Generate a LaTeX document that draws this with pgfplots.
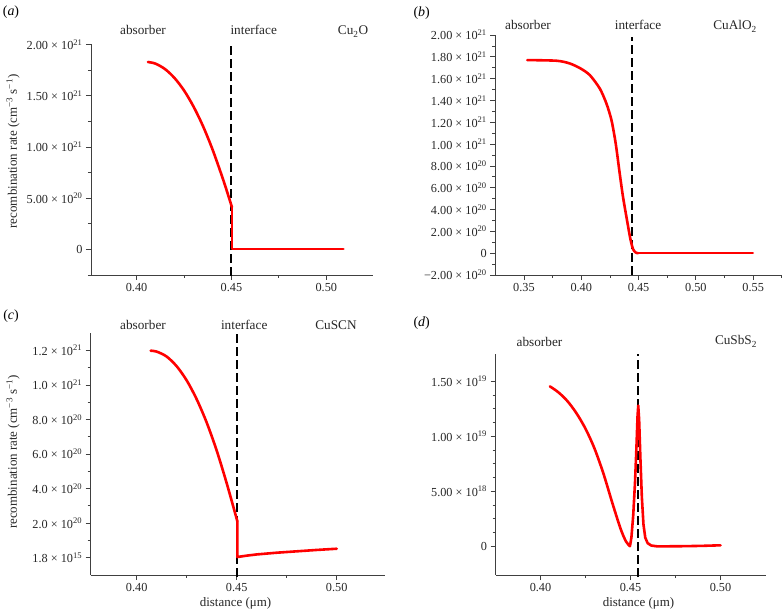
\documentclass[border=0pt]{standalone}
\usepackage{fontspec}
\setmainfont{Liberation Serif}
\usepackage{pgfplots}
\pgfplotsset{compat=1.18}
\newcommand\sci[2]{#1 × 10\textsuperscript{#2}}
\definecolor{axgray}{gray}{0.25}
\pgfplotsset{
  panel/.style={scale only axis, axis lines=left,
    axis line style={-, line width=0.9bp, color=axgray},
    tick align=outside, major tick length=5bp, minor tick length=3bp,
    tick style={line width=0.8bp, color=axgray},
    ticklabel style={font=\fontsize{12.3}{13}\selectfont, color=black!85},
    scaled y ticks=false, scaled x ticks=false,
    anchor=south west, clip=false},
  curve/.style={red, line width=2.6bp, line join=round, line cap=round},
  iface/.style={black, line width=2bp, dash pattern=on 9bp off 4bp},
}
\begin{document}
\begin{tikzpicture}
\useasboundingbox (0,0) rectangle (782bp,610bp);
% (a)
\begin{axis}[panel, at={(91bp,335bp)}, width=282bp, height=230.5bp,
  xmin=0.376, xmax=0.5246, ymin=-2.5e20, ymax=2e21,
  xtick={0.40,0.45,0.50}, xticklabels={0.40,0.45,0.50},
  minor xtick={0.425,0.475},
  ytick={0,5e20,1e21,1.5e21,2e21},
  yticklabels={0,\sci{5.00}{20},\sci{1.00}{21},\sci{1.50}{21},\sci{2.00}{21}},
  minor ytick={-2.5e20,2.5e20,7.5e20,1.25e21,1.75e21}]
\addplot[iface] coordinates {(0.45,-2.6e20) (0.45,2e21)};
\addplot[curve, smooth, tension=0.5] coordinates {(0.406,1.829e21) (0.410,1.813e21) (0.415,1.760e21) (0.420,1.673e21) (0.425,1.552e21) (0.430,1.395e21) (0.435,1.204e21) (0.440,0.977e21) (0.445,0.716e21) (0.4475,0.575e21) (0.4503,0.41e21)};
\addplot[curve] coordinates {(0.4503,0.41e21) (0.4503,0.002e21) (0.509,0.002e21)};
\end{axis}
% (b)
\begin{axis}[panel, at={(495.3bp,335bp)}, width=286.5bp, height=240bp,
  xmin=0.325, xmax=0.575, ymin=-2e20, ymax=2e21,
  xtick={0.35,0.40,0.45,0.50,0.55}, xticklabels={0.35,0.40,0.45,0.50,0.55},
  minor xtick={0.375,0.425,0.475,0.525,0.575},
  ytick={-2e20,0,2e20,4e20,6e20,8e20,1e21,1.2e21,1.4e21,1.6e21,1.8e21,2e21},
  yticklabels={\sci{−2.00}{20},0,\sci{2.00}{20},\sci{4.00}{20},\sci{6.00}{20},\sci{8.00}{20},\sci{1.00}{21},\sci{1.20}{21},\sci{1.40}{21},\sci{1.60}{21},\sci{1.80}{21},\sci{2.00}{21}},
  minor y tick num=1]
\addplot[iface] coordinates {(0.4445,-2e20) (0.4445,1.98e21)};
\addplot[curve, smooth, tension=0.45] coordinates {(0.3529,1.770e21) (0.3785,1.764e21) (0.390,1.739e21) (0.3994,1.693e21) (0.4075,1.632e21) (0.4162,1.509e21) (0.422,1.371e21) (0.4264,1.218e21) (0.4301,1.003e21) (0.4336,0.727e21) (0.4365,0.512e21) (0.440,0.298e21) (0.4429,0.129e21) (0.4452,0.037e21) (0.4475,0.006e21) (0.4497,0)};
\addplot[curve] coordinates {(0.4497,0) (0.5497,0)};
\end{axis}
% (c)
\begin{axis}[panel, at={(90.7bp,35bp)}, width=294bp, height=241.9bp,
  xmin=0.377, xmax=0.524, ymin=-1e20, ymax=1.3e21,
  xtick={0.40,0.45,0.50}, xticklabels={0.40,0.45,0.50},
  minor xtick={0.425,0.475},
  ytick={0,2e20,4e20,6e20,8e20,1e21,1.2e21},
  yticklabels={\sci{1.8}{15},\sci{2.0}{20},\sci{4.0}{20},\sci{6.0}{20},\sci{8.0}{20},\sci{1.0}{21},\sci{1.2}{21}},
  minor ytick={1e20,3e20,5e20,7e20,9e20,1.1e21}]
\addplot[iface] coordinates {(0.45,-1.1e20) (0.45,1.3e21)};
\addplot[curve, smooth, tension=0.5] coordinates {(0.407,1.198e21) (0.410,1.193e21) (0.415,1.164e21) (0.420,1.108e21) (0.425,1.026e21) (0.430,0.917e21) (0.435,0.782e21) (0.440,0.620e21) (0.445,0.431e21) (0.4503,0.212e21)};
\addplot[curve] coordinates {(0.4503,0.212e21) (0.4503,0.004e21) (0.455,0.012e21) (0.46,0.019e21) (0.47,0.029e21) (0.48,0.037e21) (0.49,0.045e21) (0.50,0.052e21)};
\end{axis}
% (d)
\begin{axis}[panel, at={(495.5bp,35bp)}, width=270bp, height=221.1bp,
  xmin=0.375, xmax=0.525, ymin=-2.6e18, ymax=1.75e19,
  xtick={0.40,0.45,0.50}, xticklabels={0.40,0.45,0.50},
  minor xtick={0.425,0.475},
  ytick={0,5e18,1e19,1.5e19},
  yticklabels={0,\sci{5.00}{18},\sci{1.00}{19},\sci{1.50}{19}},
  minor y tick num=3]
\addplot[iface] coordinates {(0.4542,-2.8e18) (0.4542,1.75e19)};
\addplot[curve, smooth, tension=0.5] coordinates {(0.4052,14.55e18) (0.410,14.0e18) (0.415,13.2e18) (0.420,12.1e18) (0.425,10.7e18) (0.430,8.9e18) (0.435,6.6e18) (0.440,3.9e18) (0.4445,1.6e18) (0.4475,0.45e18) (0.4497,0.02e18)};
\addplot[curve] coordinates {(0.4497,0.02e18) (0.4505,0.8e18) (0.4515,2.8e18) (0.4525,5.8e18) (0.4533,9.0e18) (0.4539,11.8e18) (0.4543,12.8e18) (0.4548,11.5e18) (0.4555,8.0e18) (0.4563,4.5e18) (0.4572,2.0e18) (0.4582,0.8e18) (0.4595,0.3e18) (0.4615,0.08e18) (0.465,0.0) (0.48,0.02e18) (0.49,0.05e18) (0.50,0.1e18)};
\end{axis}
% annotations
\begin{scope}[every node/.style={font=\fontsize{13.3}{15}\selectfont, text=black!85}]
\node[anchor=base] at (143bp,575bp) {absorber};
\node[anchor=base] at (253.7bp,575bp) {interface};
\node[anchor=base] at (353bp,575bp) {Cu\textsubscript{2}O};
\node[anchor=base] at (528bp,580bp) {absorber};
\node[anchor=base] at (638bp,580bp) {interface};
\node[anchor=base] at (735bp,580bp) {CuAlO\textsubscript{2}};
\node[anchor=base] at (143bp,280.7bp) {absorber};
\node[anchor=base] at (244.2bp,280.7bp) {interface};
\node[anchor=base] at (336bp,280.7bp) {CuSCN};
\node[anchor=base] at (539.5bp,263.3bp) {absorber};
\node[anchor=base] at (736bp,265bp) {CuSbS\textsubscript{2}};
\end{scope}
\begin{scope}[every node/.style={font=\fontsize{14}{16}\selectfont, text=black}]
\node at (11bp,597.5bp) {(\textit{a})};
\node at (421.7bp,597bp) {(\textit{b})};
\node at (11bp,294.2bp) {(\textit{c})};
\node at (421.7bp,286.7bp) {(\textit{d})};
\end{scope}
\begin{scope}[every node/.style={font=\fontsize{13}{15}\selectfont, text=black!85}]
\node[rotate=90] at (13bp,458.5bp) {recombination rate (cm\textsuperscript{−3} s\textsuperscript{−1})};
\node[rotate=90] at (13bp,158bp) {recombination rate (cm\textsuperscript{−3} s\textsuperscript{−1})};
\node at (235.5bp,7bp) {distance (μm)};
\node at (638.5bp,7bp) {distance (μm)};
\end{scope}
\end{tikzpicture}
\end{document}
